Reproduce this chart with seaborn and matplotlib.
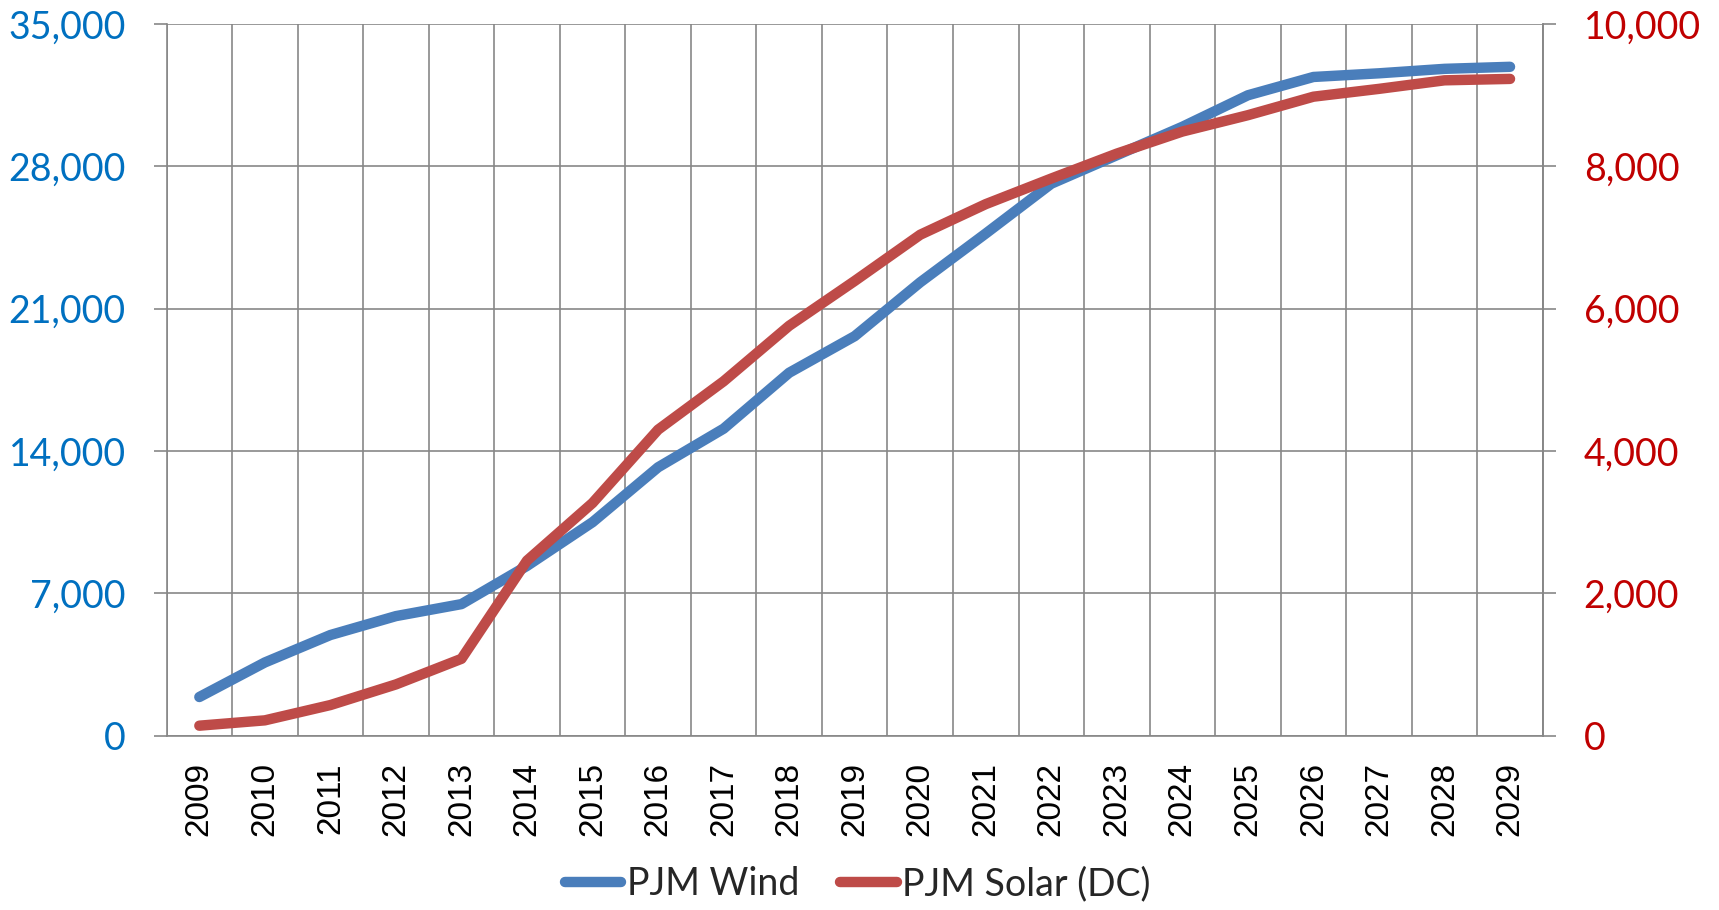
import numpy as np
import pandas as pd
import matplotlib
matplotlib.use("Agg")
import matplotlib.pyplot as plt
import seaborn as sns
from matplotlib.ticker import FuncFormatter

years = [str(y) for y in range(2009, 2030)]
wind = [1900, 3600, 4950, 5880, 6470, 8350, 10500, 13200, 15100, 17850, 19650,
        22300, 24700, 27150, 28550, 29950, 31500, 32400, 32580, 32800, 32900]
solar = [140, 215, 430, 720, 1080, 2460, 3270, 4300, 4980, 5760, 6390,
         7040, 7470, 7830, 8180, 8490, 8720, 8980, 9090, 9210, 9230]

wind_color = "#4a7ebb"
solar_color = "#be4b48"
left_tick_color = "#0070c0"
right_tick_color = "#c00000"
grid_color = "#878787"

sns.set_style("white")
plt.rcParams["font.family"] = ["Lato", "DejaVu Sans"]

fig = plt.figure(figsize=(17.19, 9.10), dpi=100)
ax = fig.add_axes([0.0969, 0.1916, 0.8006, 0.7819])

df = pd.DataFrame({"x": np.arange(len(years)), "wind": wind, "solar": solar})

sns.lineplot(data=df, x="x", y="wind", ax=ax, color=wind_color, lw=7.5,
             solid_capstyle="round", solid_joinstyle="round", label="PJM Wind", legend=False)
ax2 = ax.twinx()
sns.lineplot(data=df, x="x", y="solar", ax=ax2, color=solar_color, lw=7.5,
             solid_capstyle="round", solid_joinstyle="round", label="PJM Solar (DC)", legend=False)

n = len(years)
ax.set_xlim(-0.5, n - 0.5)
ax.set_ylim(0, 35000)
ax2.set_ylim(0, 10000)
ax.set_yticks(np.arange(0, 35001, 7000))
ax2.set_yticks(np.arange(0, 10001, 2000))

fmt = FuncFormatter(lambda v, p: f"{int(v):,}")
ax.yaxis.set_major_formatter(fmt)
ax2.yaxis.set_major_formatter(fmt)

ax.set_xticks(np.arange(n))
ax.set_xticklabels(years, rotation=90, family=["Liberation Sans", "DejaVu Sans"], fontsize=24)
ax.set_xticks(np.arange(-0.5, n, 1), minor=True)
ax.tick_params(axis="x", which="major", length=0, pad=19, colors="black")
ax.tick_params(axis="x", which="minor", length=9.4, width=1.2, color=grid_color)
ax.grid(True, axis="x", which="minor", color=grid_color, lw=1.2)
ax.grid(True, axis="y", which="major", color=grid_color, lw=1.2)
ax.grid(False, axis="x", which="major")

ax.tick_params(axis="y", length=9.4, width=1.2, color=grid_color, pad=20,
               labelcolor=left_tick_color, labelsize=27)
ax2.tick_params(axis="y", length=9.4, width=1.2, color=grid_color, pad=20,
                labelcolor=right_tick_color, labelsize=27)
ax2.grid(False)

ax.set_xlabel("")
ax.set_ylabel("")
ax2.set_ylabel("")

for a in (ax, ax2):
    for s in a.spines.values():
        s.set_color(grid_color)
        s.set_linewidth(1.2)
    a.spines["top"].set_visible(False)
ax2.spines["left"].set_visible(False)
ax2.spines["bottom"].set_visible(False)

h1, l1 = ax.get_legend_handles_labels()
h2, l2 = ax2.get_legend_handles_labels()
fig.legend(h1 + h2, l1 + l2, loc="center", bbox_to_anchor=(0.499, 0.0286), ncol=2,
           frameon=False, fontsize=27, handlelength=1.5, handletextpad=0.15,
           columnspacing=1.1)

fig.savefig("out.png", dpi=100)
